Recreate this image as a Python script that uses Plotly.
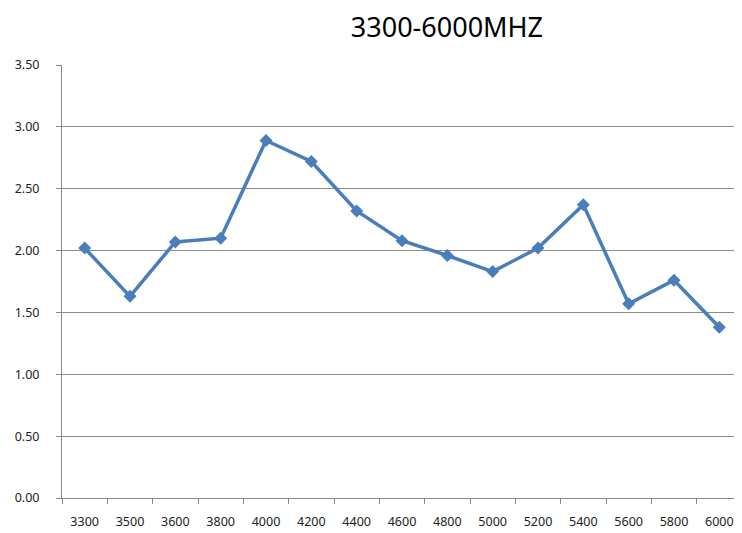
import plotly.graph_objects as go

categories = ["3300", "3500", "3600", "3800", "4000", "4200", "4400", "4600",
              "4800", "5000", "5200", "5400", "5600", "5800", "6000"]
values = [2.02, 1.63, 2.07, 2.10, 2.89, 2.72, 2.32, 2.08, 1.96, 1.83,
          2.02, 2.37, 1.57, 1.76, 1.38]
y_ticks = [0, 0.5, 1.0, 1.5, 2.0, 2.5, 3.0, 3.5]
title_text = "3300-6000MHZ"

fig = go.Figure()
fig.add_trace(go.Scatter(
    x=categories, y=values, mode="lines+markers",
    line=dict(color="#4A7EBB", width=3.5),
    marker=dict(symbol="diamond", size=10, color="#4A7EBB"),
    showlegend=False,
))

fig.update_layout(
    width=734, height=525,
    margin=dict(l=54, r=0, t=57, b=35),
    paper_bgcolor="white", plot_bgcolor="white",
    title=dict(text=title_text, x=0.598, xanchor="center", y=0.9629, yanchor="middle",
               font=dict(family="Noto Sans", size=27, color="#000000")),
    font=dict(family="Noto Sans", size=12, color="#333333"),
)
fig.update_xaxes(
    type="category", range=[-0.5, len(categories) - 0.5],
    showgrid=False, showline=True, linecolor="#888888", linewidth=1,
    ticks="outside", tickson="boundaries", ticklen=5, tickcolor="#888888",
    tickfont=dict(size=12.5, color="#222222"), ticklabelstandoff=12,
)
fig.update_yaxes(
    range=[0, 3.5], tickvals=y_ticks, ticktext=[f"{v:.2f}" for v in y_ticks],
    showgrid=True, gridcolor="#8c8c8c", gridwidth=1,
    showline=True, linecolor="#888888", linewidth=1,
    ticks="outside", ticklen=5, tickcolor="#888888",
    tickfont=dict(size=12.5, color="#222222"), zeroline=False, ticklabelstandoff=14,
)

fig.write_html("out.html")
